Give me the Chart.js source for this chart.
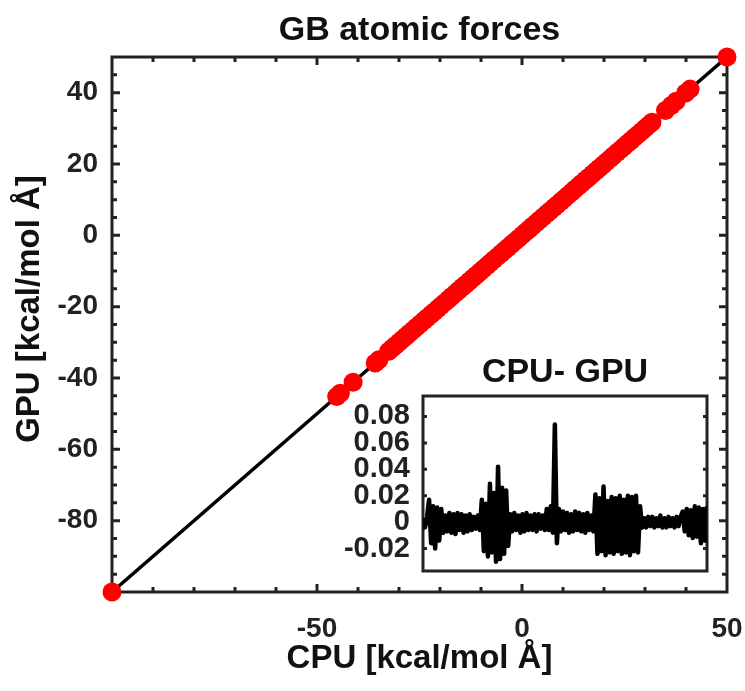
<!DOCTYPE html>
<html>
<head>
<meta charset="utf-8">
<script src="https://cdn.jsdelivr.net/npm/chart.js@4.4.1/dist/chart.umd.min.js"></script>
<style>
html, body { margin: 0; padding: 0; background: #fff; }
#wrap { position: relative; width: 745px; height: 691px; }
#mainChart { position: absolute; left: 0; top: 0; }
#insetChart { position: absolute; left: 330px; top: 350px; }
</style>
</head>
<body>
<div id="wrap">
<canvas id="mainChart" width="745" height="691"></canvas>
<canvas id="insetChart" width="390" height="230"></canvas>
</div>
<script>

/* DATA */

// per-atom GB forces, kcal/mol/Å
const cpuForces = [-100, -45.2, -44.3, -41.2, -35.8, -34.9,
    -32.5, -31.6, -30.8, -29.9, -29.1, -28.2, -27.4, -26.5, -25.7, -24.8,
    -23.9, -23.1, -22.2, -21.4, -20.5, -19.7, -18.8, -17.9, -17.1, -16.2,
    -15.4, -14.5, -13.7, -12.8, -11.9, -11.1, -10.2, -9.4, -8.5, -7.7,
    -6.8, -5.9, -5.1, -4.2, -3.4, -2.5, -1.7, -0.8, 0.1, 0.9,
    1.8, 2.6, 3.5, 4.3, 5.2, 6.1, 6.9, 7.8, 8.6, 9.5,
    10.3, 11.2, 12.1, 12.9, 13.8, 14.6, 15.5, 16.3, 17.2, 18.1,
    18.9, 19.8, 20.6, 21.5, 22.3, 23.2, 24.1, 24.9, 25.8, 26.6,
    27.5, 28.3, 29.2, 30.1, 30.9, 31.7,
    35.0, 36.4, 37.6, 39.9, 41.0, 50]
const gpuForces = [-100, -45.2, -44.3, -41.2, -35.8, -34.9,
    -32.5, -31.6, -30.8, -29.9, -29.1, -28.2, -27.4, -26.5, -25.7, -24.8,
    -23.9, -23.1, -22.2, -21.4, -20.5, -19.7, -18.8, -17.9, -17.1, -16.2,
    -15.4, -14.5, -13.7, -12.8, -11.9, -11.1, -10.2, -9.4, -8.5, -7.7,
    -6.8, -5.9, -5.1, -4.2, -3.4, -2.5, -1.7, -0.8, 0.1, 0.9,
    1.8, 2.6, 3.5, 4.3, 5.2, 6.1, 6.9, 7.8, 8.6, 9.5,
    10.3, 11.2, 12.1, 12.9, 13.8, 14.6, 15.5, 16.3, 17.2, 18.1,
    18.9, 19.8, 20.6, 21.5, 22.3, 23.2, 24.1, 24.9, 25.8, 26.6,
    27.5, 28.3, 29.2, 30.1, 30.9, 31.7,
    35.0, 36.4, 37.6, 39.9, 41.0, 50]

// y = x reference line
const parityLine = [-100, 50]

// CPU - GPU difference per atom
const forceDiff = [
    0.003, -0.004, 0.004,
    0.017, -0.016, 0.012, -0.020, 0.011, -0.014, 0.010, -0.008,
    0.005, -0.007, 0.007, -0.008, 0.006, -0.009, 0.007, -0.006, 0.006,
    -0.008, 0.005, -0.007, 0.006, -0.006, 0.004, -0.005, 0.005, -0.006,
    0.017, -0.022, 0.014, -0.026, 0.029, -0.023, 0.022, -0.030, 0.042,
    -0.028, 0.026, -0.024, 0.024, -0.018,
    0.006, -0.007, 0.007, -0.006, 0.005, -0.008, 0.006, -0.007, 0.007,
    -0.006, 0.005, -0.006, 0.006, -0.007, 0.006, -0.005, 0.005, -0.006,
    0.010, -0.006, 0.012, -0.008,
    0.074, -0.016, 0.010,
    -0.007, 0.008, -0.006, 0.007, -0.008, 0.006, -0.007, 0.008, -0.006,
    0.007, -0.007, 0.006, -0.008, 0.007, -0.006, 0.005, -0.007,
    0.021, -0.024, 0.018, -0.022, 0.027, -0.025, 0.016, -0.023, 0.019,
    -0.024, 0.018, -0.022, 0.020, -0.024, 0.017, -0.023, 0.020, -0.025,
    0.019, -0.022, 0.020, -0.023, 0.012,
    -0.004, 0.003, -0.004, 0.004, -0.003, 0.004, -0.004, 0.003, -0.003,
    0.005, -0.004, 0.003, -0.004, 0.004, -0.003, 0.003, -0.004, 0.004,
    -0.003, 0.004,
    0.008, -0.007, 0.010, -0.010, 0.009, -0.012, 0.012, -0.011, 0.011,
    -0.016, 0.010, -0.014, 0.012]

const xTickLabels = [-50, 0, 50]
const yTickLabels = [-80, -60, -40, -20, 0, 20, 40]
const insetTickLabels = [-0.02, 0, 0.02, 0.04, 0.06, 0.08]

const FONT = "'Liberation Sans', Arial, sans-serif"
const INK = "#222"

Chart.defaults.font.family = FONT
Chart.defaults.font.weight = "bold"
Chart.defaults.color = INK

// keep edge labels from shrinking the plot area
function noOverhang(s) {
    s.paddingLeft = 0
    s.paddingRight = 0
    s.paddingTop = 0
    s.paddingBottom = 0
}


/* BOX + INWARD TICKS */

const boxTicks = {
    id: "boxTicks",
    beforeDatasetsDraw(chart, args, opts) {
        const { ctx, chartArea: a, scales } = chart
        ctx.save()
        ctx.strokeStyle = INK
        ctx.lineWidth = 3
        ctx.lineCap = "butt"
        ctx.beginPath()
        for (const t of opts.x || []) {
            const px = scales.x.getPixelForValue(t.v)
            ctx.moveTo(px, a.bottom); ctx.lineTo(px, a.bottom - t.len)
            ctx.moveTo(px, a.top); ctx.lineTo(px, a.top + t.len)
        }
        for (const t of opts.y || []) {
            const py = scales.y.getPixelForValue(t.v)
            ctx.moveTo(a.left, py); ctx.lineTo(a.left + t.len, py)
            ctx.moveTo(a.right, py); ctx.lineTo(a.right - t.len, py)
        }
        ctx.stroke()
        ctx.strokeRect(a.left, a.top, a.right - a.left, a.bottom - a.top)
        ctx.restore()
    }
}

const sideTitle = {
    id: "sideTitle",
    afterDraw(chart, args, opts) {
        if (!opts.text) return
        const { ctx } = chart
        ctx.save()
        ctx.translate(opts.x, opts.y)
        ctx.rotate(-Math.PI / 2)
        ctx.font = "bold 33px " + FONT
        ctx.fillStyle = "#111"
        ctx.textAlign = "center"
        ctx.textBaseline = "middle"
        ctx.fillText(opts.text, 0, 0)
        ctx.restore()
    }
}

const xMarks = []
for (let v = -90; v < 50; v += 10) xMarks.push({ v, len: v % 50 === 0 ? 8 : 5 })
const yMarks = []
for (let v = -95; v < 50; v += 5) yMarks.push({ v, len: v % 20 === 0 ? 8 : 5 })


/* MAIN PARITY PLOT */

new Chart(document.getElementById("mainChart"), {
    type: "scatter",
    data: {
        datasets: [{
            data: cpuForces.map((c, i) => ({ x: c, y: gpuForces[i] })),
            backgroundColor: "#ff0000",
            borderWidth: 0,
            pointRadius: 9.5,
            pointHoverRadius: 9.5,
            clip: false,
            order: 0
        }, {
            type: "line",
            data: parityLine.map(v => ({ x: v, y: v })),
            borderColor: "#000",
            borderWidth: 3.5,
            pointRadius: 0,
            order: 1
        }]
    },
    options: {
        responsive: false,
        animation: false,
        layout: { padding: { left: 0, right: 18, top: 0, bottom: 0 } },
        plugins: {
            legend: { display: false },
            tooltip: { enabled: false },
            title: {
                display: true,
                fullSize: false,
                text: "GB atomic forces",
                color: "#111",
                font: { size: 34, weight: "bold" },
                padding: { top: 10, bottom: 6.2 }
            },
            boxTicks: { x: xMarks, y: yMarks },
            sideTitle: { text: "GPU [kcal/mol Å]", x: 30, y: 309 }
        },
        scales: {
            x: {
                type: "linear", min: -100, max: 50,
                afterBuildTicks: s => { s.ticks = xTickLabels.map(v => ({ value: v })) },
                afterFit: s => { s.height = 99; noOverhang(s) },
                grid: { display: false, drawTicks: false },
                border: { display: false },
                ticks: { font: { size: 28 }, padding: 20, maxRotation: 0, autoSkip: false },
                title: {
                    display: true,
                    text: "CPU [kcal/mol Å]",
                    color: "#111",
                    font: { size: 33, weight: "bold" },
                    padding: { top: 0, bottom: 12 }
                }
            },
            y: {
                type: "linear", min: -100, max: 50,
                afterBuildTicks: s => { s.ticks = yTickLabels.map(v => ({ value: v })) },
                afterFit: s => { s.width = 112; noOverhang(s) },
                grid: { display: false, drawTicks: false },
                border: { display: false },
                ticks: { font: { size: 28 }, padding: 14, autoSkip: false }
            }
        }
    },
    plugins: [boxTicks, sideTitle]
})


/* INSET: CPU - GPU */

new Chart(document.getElementById("insetChart"), {
    type: "line",
    data: {
        labels: forceDiff.map((_, i) => i + 1),
        datasets: [{
            data: forceDiff,
            borderColor: "#000",
            borderWidth: 4.5,
            borderJoinStyle: "round",
            pointRadius: 0,
            tension: 0
        }]
    },
    options: {
        responsive: false,
        animation: false,
        layout: { padding: { left: 0, right: 13, top: 0, bottom: 9 } },
        plugins: {
            legend: { display: false },
            tooltip: { enabled: false },
            title: {
                display: true,
                fullSize: false,
                text: "CPU- GPU",
                color: "#111",
                font: { size: 34, weight: "bold" },
                padding: { top: 2.6, bottom: 2.6 }
            },
            boxTicks: { y: insetTickLabels.map(v => ({ v, len: 4 })) }
        },
        scales: {
            x: { type: "linear", min: 1, max: forceDiff.length, display: false },
            y: {
                type: "linear", min: -0.037, max: 0.0955,
                afterBuildTicks: s => { s.ticks = insetTickLabels.map(v => ({ value: v })) },
                afterFit: s => { s.width = 93; noOverhang(s) },
                grid: { display: false, drawTicks: false },
                border: { display: false },
                ticks: { font: { size: 29 }, padding: 13, autoSkip: false }
            }
        }
    },
    plugins: [boxTicks]
})

</script>
</body>
</html>
